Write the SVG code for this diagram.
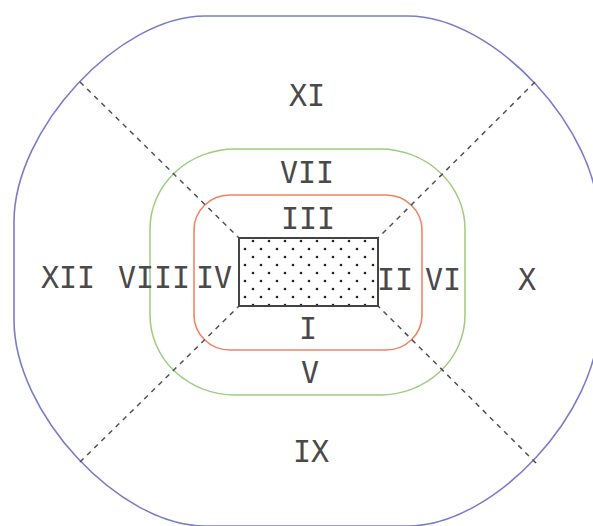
<svg xmlns="http://www.w3.org/2000/svg" width="593" height="526" viewBox="0 0 593 526">
<style>
.lbl{font-family:"DejaVu Sans Mono","Liberation Mono",monospace;font-size:30px;fill:#4a4a4a;text-anchor:middle}
.dash{stroke:#505050;stroke-width:1.5;stroke-dasharray:5 5;fill:none}
</style>
<defs>
<pattern id="dots" x="239" y="238" width="16" height="16" patternUnits="userSpaceOnUse">
<rect width="16" height="16" fill="#fff"/>
<circle cx="14" cy="3" r="1.3" fill="#222"/>
<circle cx="6" cy="11" r="1.3" fill="#222"/>
</pattern>
</defs>
<rect width="593" height="526" fill="#fff"/>
<g id="outer">
<path d="M205,16 L408,16 C494,16 599,129.3 599,222 L599,320 C599,412.7 494,526 408,526 L205,526 C119,526 14,412.7 14,320 L14,222 C14,129.3 119,16 205,16 Z" fill="none" stroke="#7a7cc8" stroke-width="1.6"/>
</g>
<g id="green">
<rect x="150" y="149" width="315" height="246" rx="85" ry="80" fill="none" stroke="#9ccd80" stroke-width="1.5"/>
</g>
<g id="red">
<rect x="194" y="195" width="228" height="155" rx="36" ry="35" fill="none" stroke="#ef8464" stroke-width="1.6"/>
</g>
<g id="connectors">
<line class="dash" x1="80" y1="82" x2="239" y2="238"/>
<line class="dash" x1="535" y1="82" x2="378" y2="238"/>
<line class="dash" x1="80" y1="462" x2="239" y2="306"/>
<line class="dash" x1="536" y1="463" x2="378" y2="306"/>
</g>
<g id="core">
<rect x="239" y="238" width="139" height="68" fill="url(#dots)" stroke="#444" stroke-width="2"/>
</g>
<g id="labels">
<text class="lbl" x="307" y="106">XI</text>
<text class="lbl" x="307" y="183">VII</text>
<text class="lbl" x="308" y="229">III</text>
<text class="lbl" x="68" y="288">XII</text>
<text class="lbl" x="154" y="288">VIII</text>
<text class="lbl" x="214" y="288">IV</text>
<text class="lbl" x="395" y="290">II</text>
<text class="lbl" x="443" y="290">VI</text>
<text class="lbl" x="527" y="290">X</text>
<text class="lbl" x="308" y="339">I</text>
<text class="lbl" x="310" y="383">V</text>
<text class="lbl" x="311" y="462">IX</text>
</g>
</svg>
